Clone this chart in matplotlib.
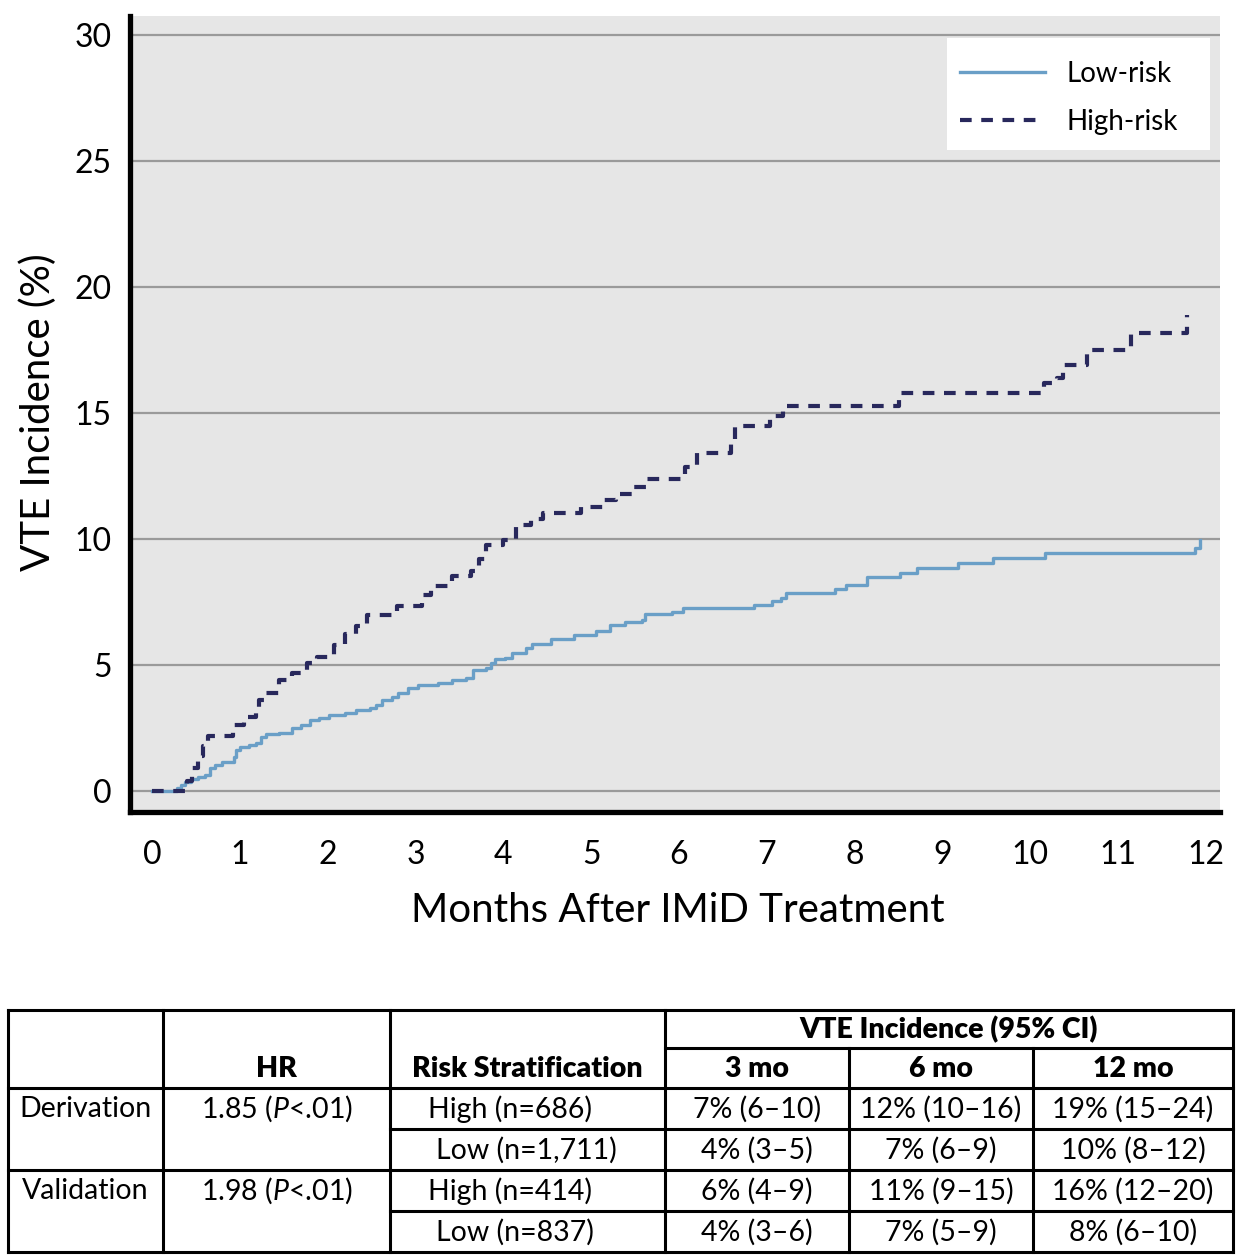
import matplotlib
matplotlib.use("Agg")
import matplotlib.pyplot as plt
from matplotlib.lines import Line2D
from matplotlib.patches import Rectangle

plt.rcParams['font.family'] = ['Lato', 'DejaVu Sans']
plt.rcParams['mathtext.fontset'] = 'custom'
plt.rcParams['mathtext.rm'] = 'Lato'
plt.rcParams['mathtext.it'] = 'Lato:italic'

# ---------------- data ----------------
low_t = [0, 0.28, 0.33, 0.38, 0.44, 0.52, 0.60, 0.66, 0.72, 0.80, 0.93, 0.96, 1.00, 1.10,
         1.18, 1.24, 1.30, 1.45, 1.60, 1.70, 1.80, 1.90, 2.02, 2.20, 2.32, 2.48, 2.55, 2.62,
         2.73, 2.80, 2.92, 3.03, 3.26, 3.42, 3.57, 3.66, 3.80, 3.86, 3.90, 4.02, 4.10, 4.26,
         4.33, 4.54, 4.80, 5.06, 5.22, 5.39, 5.58, 5.61, 5.92, 6.05, 6.86, 7.06, 7.16, 7.22,
         7.78, 7.90, 8.14, 8.52, 8.71, 9.18, 9.58, 10.17, 11.88, 11.93]
low_v = [0, 0.12, 0.24, 0.36, 0.47, 0.55, 0.65, 0.90, 1.02, 1.15, 1.35, 1.62, 1.75, 1.83,
         1.92, 2.15, 2.26, 2.30, 2.50, 2.62, 2.82, 2.90, 3.00, 3.10, 3.20, 3.28, 3.40, 3.60,
         3.73, 3.88, 4.08, 4.20, 4.29, 4.40, 4.50, 4.80, 4.88, 5.07, 5.23, 5.28, 5.48, 5.67,
         5.83, 6.03, 6.19, 6.35, 6.58, 6.70, 6.78, 7.02, 7.10, 7.26, 7.40, 7.54, 7.67, 7.85,
         8.00, 8.17, 8.50, 8.65, 8.85, 9.05, 9.25, 9.44, 9.64, 9.96]

high_t = [0, 0.40, 0.46, 0.52, 0.58, 0.64, 0.92, 1.05, 1.18, 1.22, 1.30, 1.45, 1.60, 1.76,
          1.88, 2.07, 2.20, 2.32, 2.45, 2.79, 3.08, 3.18, 3.42, 3.63, 3.72, 3.80, 4.00, 4.15,
          4.32, 4.45, 4.89, 5.14, 5.28, 5.46, 5.63, 6.07, 6.20, 6.59, 6.64, 7.04, 7.19, 8.50,
          10.16, 10.30, 10.37, 10.65, 11.15, 11.78]
high_v = [0, 0.40, 0.90, 1.40, 1.80, 2.20, 2.62, 2.95, 3.30, 3.60, 3.88, 4.40, 4.70, 5.07,
          5.30, 5.80, 6.25, 6.55, 6.98, 7.34, 7.78, 8.13, 8.55, 8.75, 9.20, 9.75, 9.95, 10.55,
          10.80, 11.03, 11.28, 11.55, 11.80, 12.07, 12.38, 12.87, 13.40, 13.86, 14.50, 14.90,
          15.28, 15.80, 16.20, 16.40, 16.90, 17.50, 18.17, 18.90]

x_ticks = list(range(0, 13))
y_ticks = [0, 5, 10, 15, 20, 25, 30]
series_labels = ["Low-risk", "High-risk"]

table_header_top = "VTE Incidence (95% CI)"
table_header_cols = ["HR", "Risk Stratification", "3 mo", "6 mo", "12 mo"]
groups = ["Derivation", "Validation"]
hr_values = ["1.85", "1.98"]
hr_p = ["<.01", "<.01"]
risk_labels = ["High (n=686)", "Low (n=1,711)", "High (n=414)", "Low (n=837)"]
inc_3mo = ["7% (6\u201310)", "4% (3\u20135)", "6% (4\u20139)", "4% (3\u20136)"]
inc_6mo = ["12% (10\u201316)", "7% (6\u20139)", "11% (9\u201315)", "7% (5\u20139)"]
inc_12mo = ["19% (15\u201324)", "10% (8\u201312)", "16% (12\u201320)", "8% (6\u201310)"]

# ---------------- figure ----------------
W, H = 1242, 1260
fig = plt.figure(figsize=(W / 100, H / 100), dpi=100)

def fx(px):
    return px / W

def fy(py):
    return 1 - py / H

ax_left, ax_right, ax_top, ax_bot = 130, 1220, 16, 812
ax = fig.add_axes([fx(ax_left), fy(ax_bot), (ax_right - ax_left) / W, (ax_bot - ax_top) / H])
ax.set_facecolor('#e6e6e6')

low_color = '#6a9fc7'
high_color = '#28285c'

ax.plot(low_t, low_v, drawstyle='steps-post', color=low_color, lw=2.4, zorder=3)
ax.plot(high_t, high_v, drawstyle='steps-post', color=high_color, lw=3.0,
        dashes=(2.8, 2.3), zorder=4)

ax.set_xlim(-0.25, 12.16)
ax.set_ylim(-0.83, 30.75)
ax.set_xticks(x_ticks)
ax.set_yticks(y_ticks)
ax.tick_params(length=0, labelsize=23)
ax.tick_params(axis='y', pad=13)
ax.tick_params(axis='x', pad=20)
ax.grid(axis='y', color='#9a9a9a', lw=1.6)
ax.set_axisbelow(True)
for s in ['top', 'right']:
    ax.spines[s].set_visible(False)
for s in ['left', 'bottom']:
    ax.spines[s].set_linewidth(3.8)
    ax.spines[s].set_color('black')

# legend: white box + frameless legend
ax.add_patch(Rectangle((fx(947), fy(150)), fx(1210) - fx(947), fy(38) - fy(150),
                       transform=fig.transFigure, facecolor='white', edgecolor='none',
                       zorder=6, clip_on=False))
handles = [Line2D([], [], color=low_color, lw=2.4),
           Line2D([], [], color=high_color, lw=3.0, dashes=(2.8, 2.3))]
leg = ax.legend(handles, series_labels, loc='upper left',
                bbox_to_anchor=(fx(960), fy(61)), bbox_transform=fig.transFigure,
                fontsize=20, frameon=False,
                handlelength=3.05, handletextpad=0.8, labelspacing=0.8,
                borderpad=0, borderaxespad=0)
leg.set_zorder(7)

fig.text(fx(678), fy(922), "Months After IMiD Treatment", ha='center', va='baseline',
         fontsize=29)
fig.text(fx(50), fy(412), "VTE Incidence (%)", rotation=90, rotation_mode='anchor',
         ha='center', va='baseline', fontsize=29)

# ---------------- table ----------------
tax = fig.add_axes([0, 0, 1, 1])
tax.set_xlim(0, W)
tax.set_ylim(H, 0)
tax.axis('off')

cols = [8, 163, 390, 665, 849, 1033, 1233]
rows = [1010, 1048, 1088, 1129, 1170, 1211, 1252]
lw_t = 2.2
kw = dict(color='black', lw=lw_t, solid_capstyle='projecting')
tax.plot([cols[0], cols[-1]], [rows[0], rows[0]], **kw)
tax.plot([cols[3], cols[-1]], [rows[1], rows[1]], **kw)
tax.plot([cols[0], cols[-1]], [rows[2], rows[2]], **kw)
tax.plot([cols[2], cols[-1]], [rows[3], rows[3]], **kw)
tax.plot([cols[0], cols[-1]], [rows[4], rows[4]], **kw)
tax.plot([cols[2], cols[-1]], [rows[5], rows[5]], **kw)
tax.plot([cols[0], cols[-1]], [rows[6], rows[6]], **kw)
for c in [cols[0], cols[1], cols[2], cols[3], cols[-1]]:
    tax.plot([c, c], [rows[0], rows[-1]], **kw)
for c in [cols[4], cols[5]]:
    tax.plot([c, c], [rows[1], rows[-1]], **kw)

fs_t = 20.5
fs_h = 20.5
tax.text((cols[3] + cols[-1]) / 2, 1030, table_header_top, ha='center', va='center',
         fontsize=fs_h, fontweight='heavy')
hdr_x = [(cols[1] + cols[2]) / 2, (cols[2] + cols[3]) / 2, (cols[3] + cols[4]) / 2,
         (cols[4] + cols[5]) / 2, (cols[5] + cols[6]) / 2]
for x, t in zip(hdr_x, table_header_cols):
    tax.text(x, 1069, t, ha='center', va='center', fontsize=fs_h, fontweight='heavy')

row_y = [1109, 1150, 1191, 1232]
for i, g in enumerate(groups):
    y = row_y[2 * i]
    tax.text((cols[0] + cols[1]) / 2, y, g, ha='center', va='center', fontsize=fs_t)
    tax.text((cols[1] + cols[2]) / 2, y, hr_values[i] + r" ($\mathit{P}$" + hr_p[i] + ")",
             ha='center', va='center', fontsize=fs_t)
for i, r in enumerate(risk_labels):
    xl = 428 if r.startswith("High") else 436
    tax.text(xl, row_y[i], r, ha='left', va='center', fontsize=fs_t)
    tax.text(hdr_x[2], row_y[i], inc_3mo[i], ha='center', va='center', fontsize=fs_t)
    tax.text(hdr_x[3], row_y[i], inc_6mo[i], ha='center', va='center', fontsize=fs_t)
    tax.text(hdr_x[4], row_y[i], inc_12mo[i], ha='center', va='center', fontsize=fs_t)

fig.savefig("out.png", dpi=100, facecolor='white')
